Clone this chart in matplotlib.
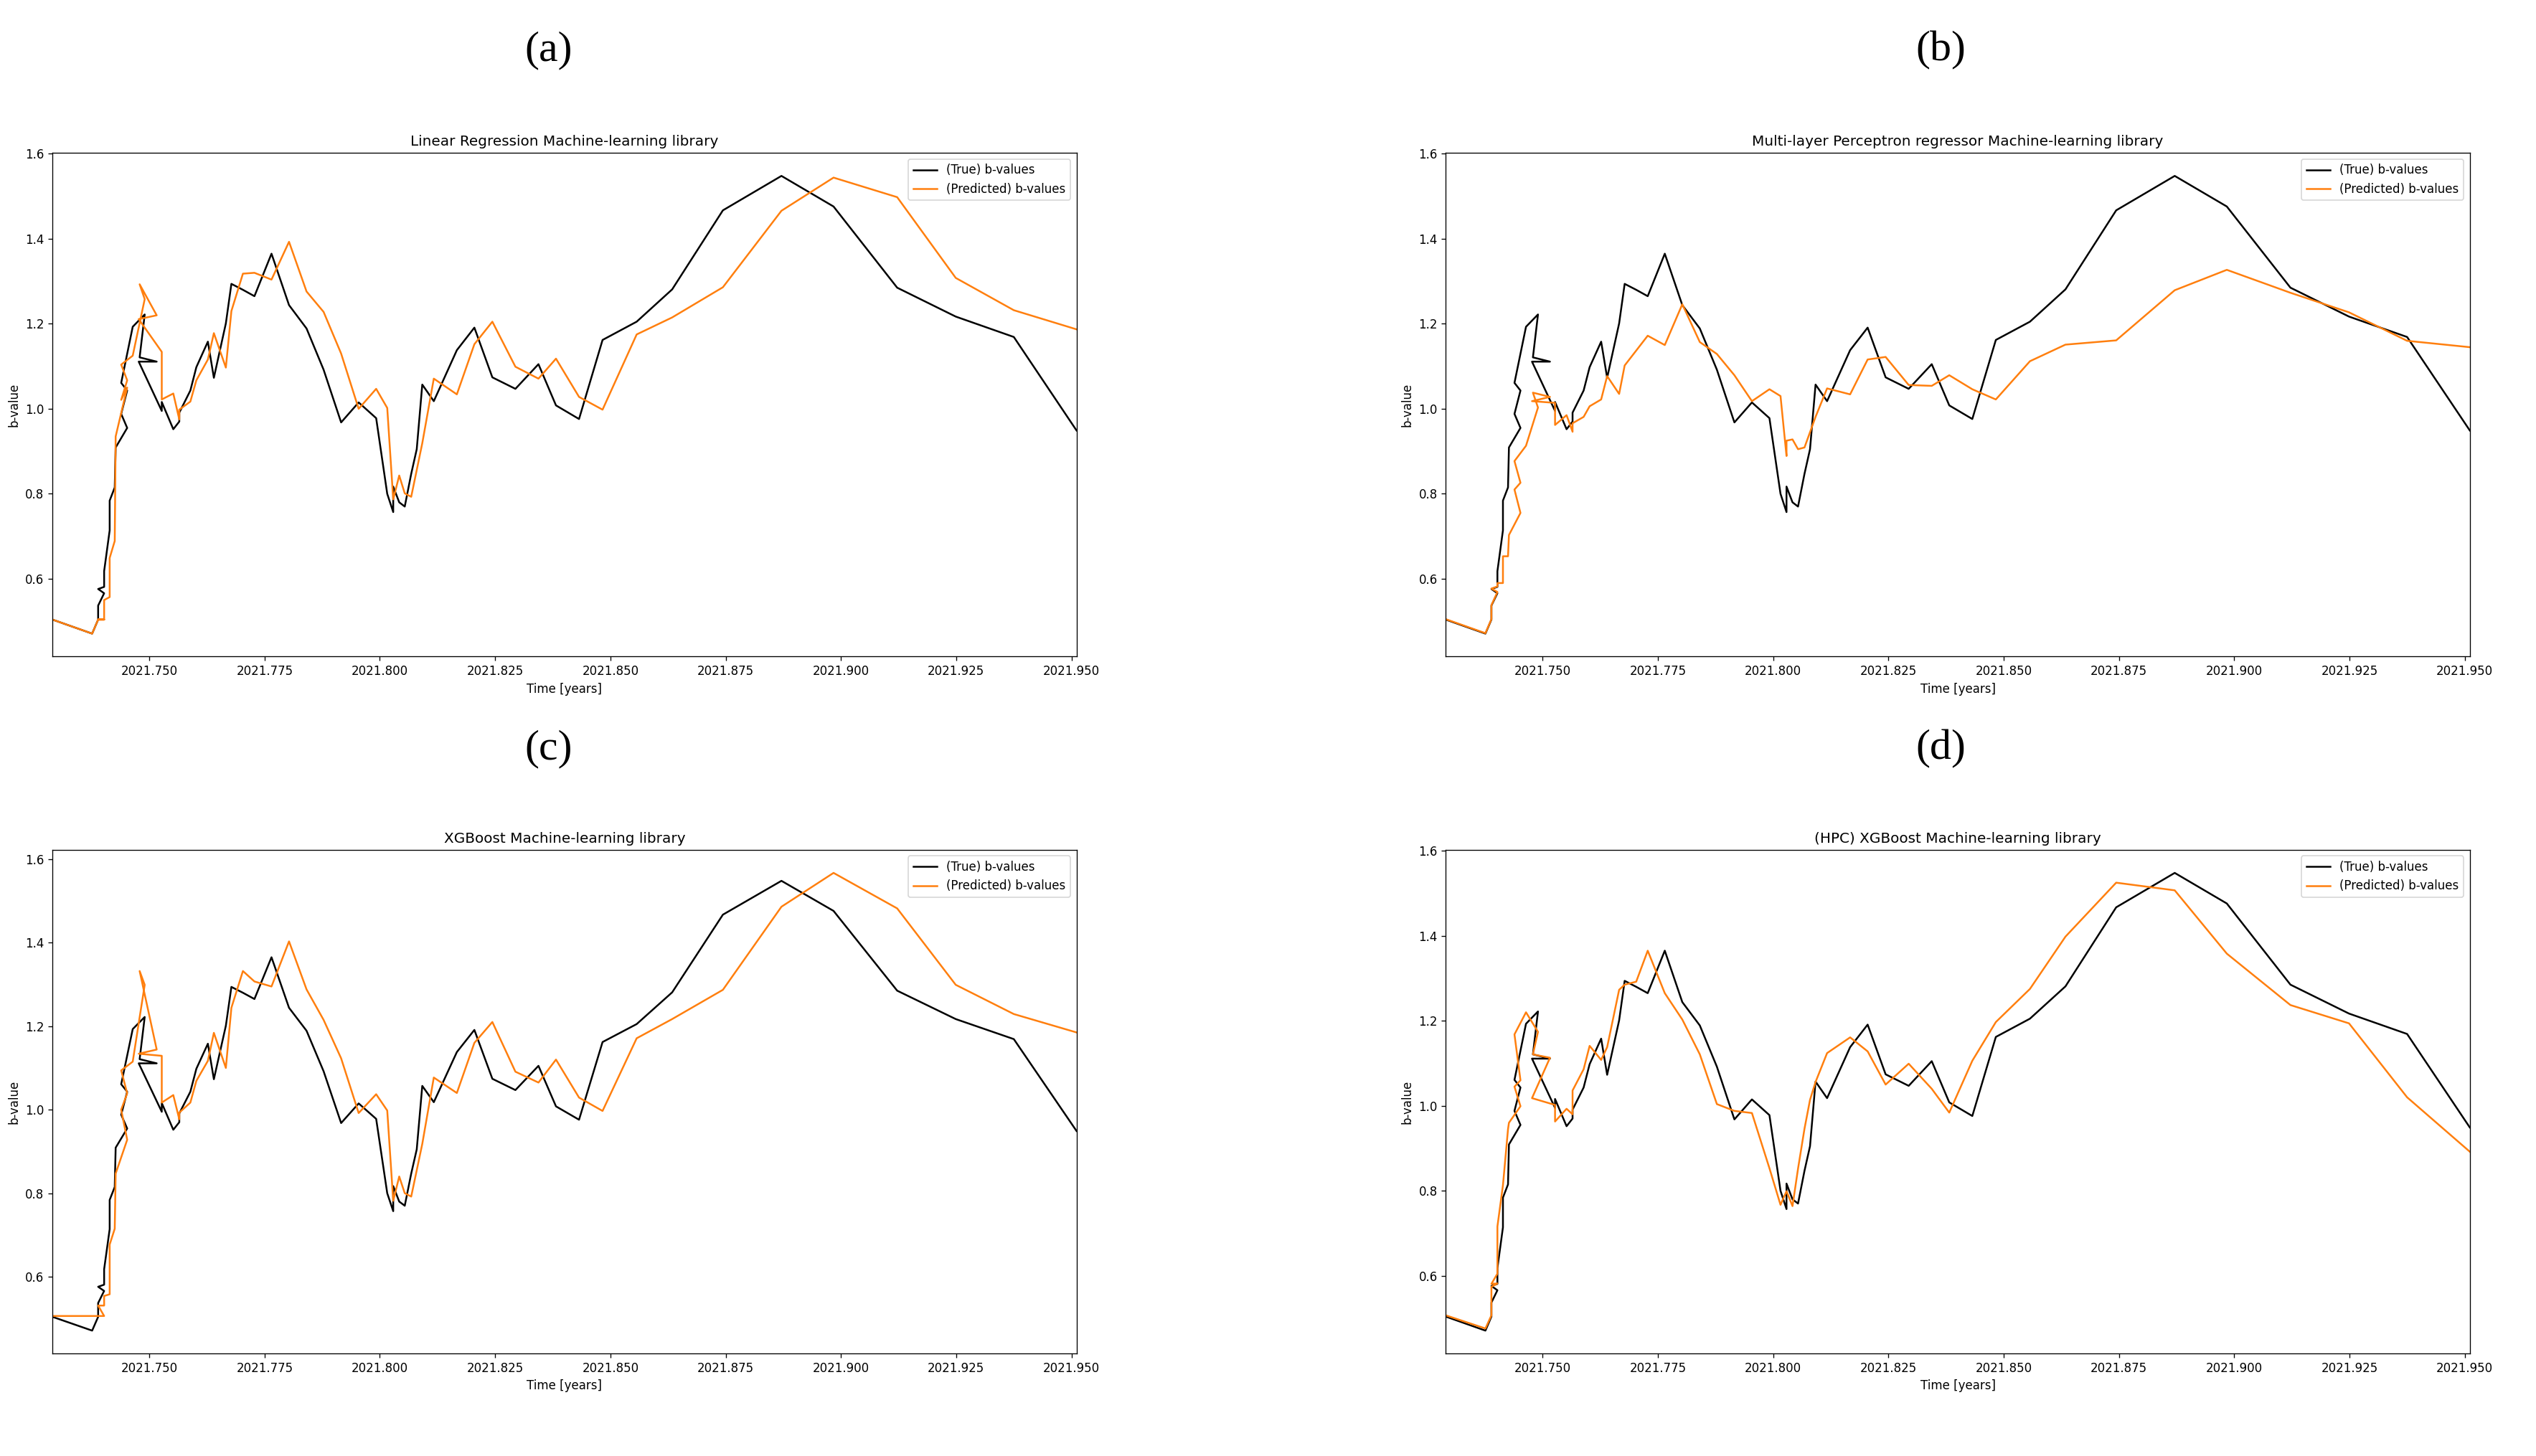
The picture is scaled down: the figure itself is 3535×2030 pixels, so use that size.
"""Four panels: true vs predicted b-values for different ML regressors."""

import matplotlib.pyplot as plt

# decimal-year timestamps (not monotonic, the series zigzags back in time early on)
times = [
    2021.7290, 2021.7376, 2021.7389, 2021.7389, 2021.7402, 2021.7389, 2021.7402,
    2021.7402, 2021.7414, 2021.7414, 2021.7425, 2021.7427, 2021.7452, 2021.7439,
    2021.7452, 2021.7439, 2021.7464, 2021.7490, 2021.7479, 2021.7516, 2021.7477,
    2021.7527, 2021.7527, 2021.7552, 2021.7565, 2021.7565, 2021.7589, 2021.7602,
    2021.7627, 2021.7640, 2021.7666, 2021.7678, 2021.7703, 2021.7728, 2021.7765,
    2021.7803, 2021.7841, 2021.7878, 2021.7916, 2021.7954, 2021.7992, 2021.8016,
    2021.8029, 2021.8029, 2021.8042, 2021.8054, 2021.8068, 2021.8080, 2021.8092,
    2021.8117, 2021.8167, 2021.8205, 2021.8244, 2021.8294, 2021.8344, 2021.8382,
    2021.8432, 2021.8483, 2021.8557, 2021.8634, 2021.8744, 2021.8871, 2021.8984,
    2021.9122, 2021.9249, 2021.9375, 2021.9511,
]

true_b = [
    0.504, 0.471, 0.504, 0.537, 0.566, 0.576, 0.581,
    0.618, 0.714, 0.784, 0.815, 0.909, 0.955, 0.988,
    1.043, 1.061, 1.193, 1.222, 1.121, 1.111, 1.111,
    0.995, 1.016, 0.952, 0.970, 0.991, 1.043, 1.098,
    1.158, 1.073, 1.201, 1.294, 1.280, 1.265, 1.365,
    1.244, 1.189, 1.092, 0.968, 1.015, 0.978, 0.800,
    0.757, 0.817, 0.780, 0.770, 0.847, 0.905, 1.057,
    1.018, 1.138, 1.191, 1.074, 1.047, 1.105, 1.008,
    0.976, 1.162, 1.205, 1.281, 1.467, 1.548, 1.476,
    1.285, 1.217, 1.169, 0.949,
]

pred_lr = [
    0.504, 0.471, 0.504, 0.504, 0.504, 0.504, 0.504,
    0.550, 0.557, 0.649, 0.689, 0.935, 1.050, 1.021,
    1.067, 1.104, 1.125, 1.258, 1.293, 1.220, 1.211,
    1.134, 1.022, 1.036, 0.975, 0.998, 1.017, 1.067,
    1.116, 1.178, 1.097, 1.230, 1.318, 1.320, 1.304,
    1.393, 1.276, 1.228, 1.130, 1.000, 1.047, 1.002,
    0.787, 0.787, 0.843, 0.801, 0.793, 0.856, 0.919,
    1.071, 1.034, 1.152, 1.205, 1.099, 1.071, 1.118,
    1.028, 0.998, 1.175, 1.215, 1.286, 1.466, 1.544,
    1.498, 1.308, 1.232, 1.187,
]

pred_mlp = [
    0.505, 0.472, 0.505, 0.538, 0.569, 0.577, 0.582,
    0.590, 0.590, 0.653, 0.653, 0.703, 0.755, 0.810,
    0.826, 0.877, 0.913, 1.003, 1.038, 1.028, 1.018,
    1.014, 0.962, 0.985, 0.946, 0.966, 0.981, 1.006,
    1.022, 1.077, 1.035, 1.102, 1.137, 1.172, 1.150,
    1.246, 1.157, 1.129, 1.079, 1.018, 1.046, 1.030,
    0.889, 0.925, 0.928, 0.905, 0.909, 0.945, 0.981,
    1.048, 1.034, 1.116, 1.122, 1.056, 1.054, 1.079,
    1.046, 1.022, 1.112, 1.151, 1.161, 1.279, 1.327,
    1.273, 1.227, 1.160, 1.145,
]

pred_xgb = [
    0.506, 0.506, 0.506, 0.506, 0.506, 0.531, 0.531,
    0.554, 0.558, 0.677, 0.715, 0.847, 0.928, 1.000,
    1.039, 1.094, 1.115, 1.299, 1.332, 1.144, 1.134,
    1.129, 1.017, 1.035, 0.977, 0.993, 1.017, 1.069,
    1.117, 1.184, 1.100, 1.244, 1.332, 1.307, 1.295,
    1.403, 1.288, 1.215, 1.123, 0.992, 1.037, 0.998,
    0.782, 0.782, 0.840, 0.800, 0.792, 0.855, 0.918,
    1.077, 1.040, 1.160, 1.210, 1.091, 1.065, 1.120,
    1.029, 0.997, 1.171, 1.217, 1.287, 1.486, 1.567,
    1.482, 1.299, 1.229, 1.185,
]

pred_hpc = [
    0.507, 0.476, 0.507, 0.574, 0.582, 0.581, 0.605,
    0.716, 0.813, 0.813, 0.945, 0.960, 0.999, 1.045,
    1.060, 1.168, 1.220, 1.174, 1.121, 1.113, 1.018,
    1.002, 0.963, 0.993, 0.980, 1.036, 1.086, 1.141,
    1.108, 1.138, 1.273, 1.285, 1.292, 1.365, 1.265,
    1.203, 1.121, 1.004, 0.988, 0.983, 0.853, 0.767,
    0.799, 0.799, 0.764, 0.852, 0.946, 1.014, 1.056,
    1.124, 1.161, 1.128, 1.050, 1.099, 1.040, 0.984,
    1.106, 1.197, 1.275, 1.398, 1.525, 1.507, 1.358,
    1.237, 1.194, 1.020, 0.892,
]

panel_tags = ["(a)", "(b)", "(c)", "(d)"]
titles = [
    "Linear Regression Machine-learning library",
    "Multi-layer Perceptron regressor Machine-learning library",
    "XGBoost Machine-learning library",
    "(HPC) XGBoost Machine-learning library",
]
predictions = [pred_lr, pred_mlp, pred_xgb, pred_hpc]


def draw_panel(ax, title, pred):
    ax.plot(times, true_b, color="black", label="(True) b-values")
    ax.plot(times, pred, color="tab:orange", label="(Predicted) b-values")
    ax.set_xlim(min(times), max(times))
    ax.ticklabel_format(axis="x", useOffset=False)
    ax.set_title(title)
    ax.set_xlabel("Time [years]")
    ax.set_ylabel("b-value")
    ax.legend(loc="upper right")


def main():
    dpi = 120
    fig = plt.figure(figsize=(3535 / dpi, 2030 / dpi), dpi=dpi)

    w, h = 0.4038, 0.3458
    lefts = [0.0207, 0.5701, 0.0207, 0.5701]
    bottoms = [0.5491, 0.5491, 0.0704, 0.0704]
    tag_x = [0.2162, 0.7652, 0.2162, 0.7652]
    tag_y = [0.9655, 0.9655, 0.4857, 0.4857]

    for i in range(4):
        ax = fig.add_axes([lefts[i], bottoms[i], w, h])
        draw_panel(ax, titles[i], predictions[i])
        fig.text(tag_x[i], tag_y[i], panel_tags[i], ha="center", va="center",
                 fontsize=36, family="Liberation Serif")

    fig.savefig("out.png", dpi=dpi)


if __name__ == "__main__":
    main()
